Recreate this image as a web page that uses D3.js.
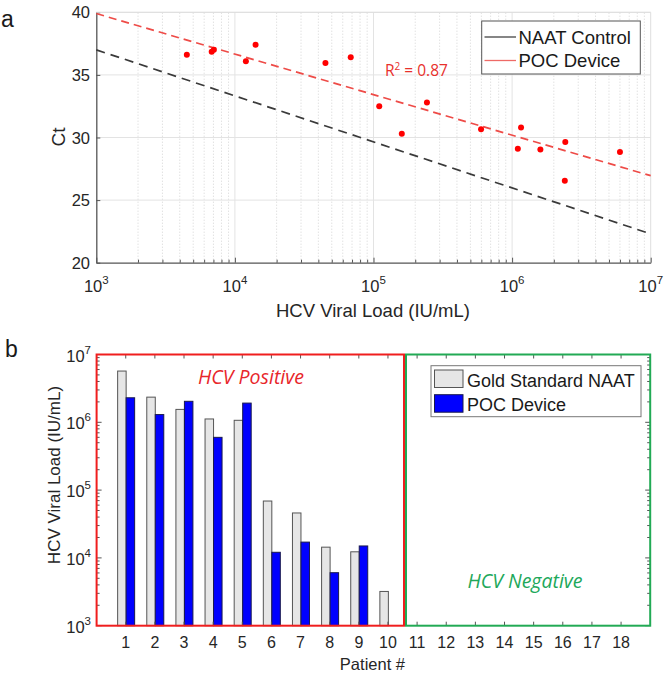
<!DOCTYPE html>
<html><head><meta charset="utf-8">
<script src="https://cdn.jsdelivr.net/npm/d3@7"></script>
<style>body{margin:0;background:#fff} svg{display:block}</style>
</head><body>
<script>
// ---------- Data: panel a ----------
const scatterLoad = [4500, 6800, 7050, 12000, 14100, 45000, 68500, 110000, 160000, 243000, 597000, 1160000, 1100000, 1600000, 2420000, 2400000, 6000000];
const scatterCt   = [36.6, 36.85, 37.0, 36.1, 37.4, 35.95, 36.4, 32.5, 30.3, 32.8, 30.65, 30.8, 29.1, 29.05, 29.65, 26.55, 28.85];
const fitLoad   = [1e3, 1e7];
const naatFitCt = [37.0, 22.3];
const pocFitCt  = [39.9, 26.95];
const ctTicks   = [20, 25, 30, 35, 40];
const loadTicks = [1e3, 1e4, 1e5, 1e6, 1e7];
const loadExp   = ["3", "4", "5", "6", "7"];
const legendA   = ["NAAT Control", "POC Device"];
const r2Label   = "0.87";

// ---------- Data: panel b ----------
const patients   = d3.range(1, 19);
const goldNAAT   = [5.7e6, 2.35e6, 1.55e6, 1.12e6, 1.07e6, 6.9e4, 4.6e4, 1.44e4, 1.23e4, 3.2e3];
const pocDevice  = [2.3e6, 1.3e6, 2.04e6, 6.0e5, 1.92e6, 1.21e4, 1.71e4, 6.05e3, 1.5e4, null];
const legendB    = ["Gold Standard NAAT", "POC Device"];
const groupNames = ["HCV Positive", "HCV Negative"];

const W = 666, H = 674;
const FONT = "'Liberation Sans', Arial, sans-serif";
const FONT2 = "'Open Sans', 'Noto Sans', sans-serif";
const svg = d3.select("body").append("svg").attr("width", W).attr("height", H)
  .style("font-family", FONT);

function minorLogs(lo, hi) {
  const out = [];
  for (let e = lo; e < hi; e++) for (let k = 2; k <= 9; k++) out.push(k * Math.pow(10, e));
  return out;
}

// ================= Panel a =================
const xA = d3.scaleLog().domain([1e3, 1e7]).range([96.3, 650.7]);
const yA = d3.scaleLinear().domain([20, 40]).range([262.7, 12.3]);
const gA = svg.append("g");

// minor grid (dotted)
gA.append("g").selectAll("line").data(minorLogs(3, 7)).join("line")
  .attr("x1", d => xA(d)).attr("x2", d => xA(d))
  .attr("y1", yA(20)).attr("y2", yA(40))
  .attr("stroke", "#d4d4d4").attr("stroke-width", 1).attr("stroke-dasharray", "1,2");
// major grid
gA.append("g").selectAll("line").data(loadTicks.slice(1, 4)).join("line")
  .attr("x1", d => xA(d)).attr("x2", d => xA(d))
  .attr("y1", yA(20)).attr("y2", yA(40))
  .attr("stroke", "#e3e3e3").attr("stroke-width", 1);
gA.append("g").selectAll("line").data(ctTicks.slice(1)).join("line")
  .attr("x1", xA(1e3)).attr("x2", xA(1e7))
  .attr("y1", d => yA(d)).attr("y2", d => yA(d))
  .attr("stroke", "#e3e3e3").attr("stroke-width", 1);
// right border
gA.append("line").attr("x1", xA(1e7)).attr("x2", xA(1e7)).attr("y1", yA(20)).attr("y2", yA(40))
  .attr("stroke", "#dedede");

// axes (ticks inside)
const axB = gA.append("g").attr("transform", `translate(0,${yA(20)})`)
  .call(d3.axisBottom(xA).tickValues(loadTicks).tickSizeInner(-5).tickSizeOuter(0).tickFormat(""));
const axBm = gA.append("g").attr("transform", `translate(0,${yA(20)})`)
  .call(d3.axisBottom(xA).tickValues(minorLogs(3, 7)).tickSizeInner(-3).tickSizeOuter(0).tickFormat(""));
axBm.select(".domain").remove();
const axL = gA.append("g").attr("transform", `translate(${xA(1e3)},0)`)
  .call(d3.axisLeft(yA).tickValues(ctTicks).tickSizeInner(-4).tickSizeOuter(0).tickFormat(""));
[axB, axBm, axL].forEach(a => {
  a.selectAll("line").attr("stroke", "#555");
  a.selectAll(".domain").attr("stroke", "#555").attr("stroke-width", 1.3);
});

// tick labels
gA.append("g").selectAll("text").data(ctTicks).join("text")
  .attr("x", 90).attr("y", d => yA(d) + 6)
  .attr("text-anchor", "end").attr("font-size", 16.5).attr("fill", "#262626")
  .text(d => d);
const xl = gA.append("g").selectAll("text").data(loadTicks).join("text")
  .attr("x", d => xA(d)).attr("y", 292)
  .attr("text-anchor", "middle").attr("font-size", 16.5).attr("fill", "#262626");
xl.append("tspan").text("10");
xl.append("tspan").attr("dy", -8).attr("font-size", 11.5).text((d, i) => loadExp[i]);

// axis labels
gA.append("text").attr("x", 373).attr("y", 317).attr("text-anchor", "middle")
  .attr("font-size", 18.5).attr("fill", "#262626").text("HCV Viral Load (IU/mL)");
gA.append("text").attr("transform", "translate(65,137) rotate(-90)").attr("text-anchor", "middle")
  .attr("font-size", 19).attr("fill", "#262626").text("Ct");

// fit lines
const lineA = d3.line().x(d => xA(d[0])).y(d => yA(d[1]));
gA.append("path").datum(fitLoad.map((v, i) => [v, naatFitCt[i]])).attr("d", lineA)
  .attr("fill", "none").attr("stroke", "#3a3a3a").attr("stroke-width", 1.7).attr("stroke-dasharray", "9,6");
gA.append("path").datum(fitLoad.map((v, i) => [v, pocFitCt[i]])).attr("d", lineA)
  .attr("fill", "none").attr("stroke", "#ee4b47").attr("stroke-width", 1.7).attr("stroke-dasharray", "8,5");

// points
gA.append("g").selectAll("circle").data(scatterLoad).join("circle")
  .attr("cx", d => xA(d)).attr("cy", (d, i) => yA(scatterCt[i])).attr("r", 3)
  .attr("fill", "#ff0000");

// top border
gA.append("line").attr("x1", xA(1e3)).attr("x2", xA(1e7)).attr("y1", yA(40)).attr("y2", yA(40))
  .attr("stroke", "#dedede");

// R^2 label
const r2 = gA.append("text").attr("x", 385).attr("y", 76).attr("font-family", FONT2)
  .attr("font-size", 15.5).attr("fill", "#e8302c");
r2.append("tspan").text("R");
r2.append("tspan").attr("dy", -6).attr("font-size", 10).text("2");
r2.append("tspan").attr("dy", 6).text(" = " + r2Label);

// legend a
const lgA = gA.append("g");
lgA.append("rect").attr("x", 481.7).attr("y", 21).attr("width", 158.6).attr("height", 53)
  .attr("fill", "#fff").attr("stroke", "#555").attr("stroke-width", 1);
const legColsA = ["#444", "#ee6a66"];
legendA.forEach((t, i) => {
  const y = 37 + i * 23.5;
  lgA.append("line").attr("x1", 484.5).attr("x2", 516).attr("y1", y).attr("y2", y)
    .attr("stroke", legColsA[i]).attr("stroke-width", 1.3);
  lgA.append("text").attr("x", 518.5).attr("y", y + 6.5).attr("font-size", 18.5)
    .attr("fill", "#1a1a1a").text(t);
});

// panel letter
svg.append("text").attr("x", 1).attr("y", 27).attr("font-size", 23).attr("fill", "#1a1a1a").text("a");

// ================= Panel b =================
const xB = d3.scaleLinear().domain([0, 19]).range([96.6, 650.2]);
const yB = d3.scaleLog().domain([1e3, 1e7]).range([625.7, 354.5]);
const gB = svg.append("g");
const bw = 8.5;

// bars
gB.append("g").selectAll("rect").data(goldNAAT).join("rect")
  .attr("x", (d, i) => xB(patients[i]) - bw + 0.4).attr("width", bw)
  .attr("y", d => yB(d)).attr("height", d => yB(1e3) - yB(d))
  .attr("fill", "#e6e6e6").attr("stroke", "#555").attr("stroke-width", 1);
gB.append("g").selectAll("rect").data(pocDevice.map((d, i) => ({d, i})).filter(o => o.d != null)).join("rect")
  .attr("x", o => xB(patients[o.i]) + 0.4).attr("width", bw)
  .attr("y", o => yB(o.d)).attr("height", o => yB(1e3) - yB(o.d))
  .attr("fill", "#0000ff").attr("stroke", "#1a1a4d").attr("stroke-width", 1);

// ticks
const tkB = gB.append("g").attr("stroke", "#555").attr("stroke-width", 1);
tkB.selectAll(".tt").data(patients).join("line").attr("class", "tt")
  .attr("x1", d => xB(d)).attr("x2", d => xB(d)).attr("y1", yB(1e7)).attr("y2", yB(1e7) + 4);
tkB.selectAll(".tb").data(patients).join("line").attr("class", "tb")
  .attr("x1", d => xB(d)).attr("x2", d => xB(d)).attr("y1", yB(1e3)).attr("y2", yB(1e3) - 4);
const ymaj = loadTicks, ymin = minorLogs(3, 7);
[[xB(0), 1], [xB(19), -1]].forEach(([x0, s]) => {
  tkB.append("g").selectAll("line").data(ymaj).join("line")
    .attr("x1", x0).attr("x2", x0 + s * 5).attr("y1", d => yB(d)).attr("y2", d => yB(d));
  tkB.append("g").selectAll("line").data(ymin).join("line")
    .attr("x1", x0).attr("x2", x0 + s * 3).attr("y1", d => yB(d)).attr("y2", d => yB(d));
});

// group boxes
const splitX = xB(10.55);
gB.append("rect").attr("x", xB(0)).attr("y", yB(1e7)).attr("width", splitX - xB(0))
  .attr("height", yB(1e3) - yB(1e7)).attr("fill", "none").attr("stroke", "#f01e1e").attr("stroke-width", 2);
gB.append("rect").attr("x", splitX + 2).attr("y", yB(1e7)).attr("width", xB(19) - splitX - 2)
  .attr("height", yB(1e3) - yB(1e7)).attr("fill", "none").attr("stroke", "#22aa55").attr("stroke-width", 2);

// group labels
gB.append("text").attr("x", 251).attr("y", 384).attr("text-anchor", "middle")
  .attr("font-family", FONT2).attr("font-style", "italic").attr("font-size", 19.5)
  .attr("fill", "#e8262b").text(groupNames[0]);
gB.append("text").attr("x", 525).attr("y", 588).attr("text-anchor", "middle")
  .attr("font-family", FONT2).attr("font-style", "italic").attr("font-size", 19.5)
  .attr("fill", "#21a85a").text(groupNames[1]);

// tick labels
gB.append("g").selectAll("text").data(patients).join("text")
  .attr("x", d => xB(d)).attr("y", 648).attr("text-anchor", "middle")
  .attr("font-size", 16).attr("fill", "#262626").text(d => d);
const yl = gB.append("g").selectAll("text").data(loadTicks).join("text")
  .attr("x", 91).attr("y", d => yB(d) + 7).attr("text-anchor", "end")
  .attr("font-size", 16.5).attr("fill", "#262626");
yl.append("tspan").text("10");
yl.append("tspan").attr("dy", -8).attr("font-size", 11.5).text((d, i) => loadExp[i]);

// axis labels
gB.append("text").attr("x", 405).attr("y", 670).attr("text-anchor", "end")
  .attr("font-size", 16.5).attr("fill", "#262626").text("Patient #");
gB.append("text").attr("transform", "translate(60,475) rotate(-90)").attr("text-anchor", "middle")
  .attr("font-size", 17).attr("fill", "#262626").text("HCV Viral Load (IU/mL)");

// legend b
const lgB = gB.append("g");
lgB.append("rect").attr("x", 431).attr("y", 365.7).attr("width", 210).attr("height", 51)
  .attr("fill", "#fff").attr("stroke", "#777").attr("stroke-width", 1);
const legFillB = ["#e6e6e6", "#0000ff"];
const legStrokeB = ["#555", "#1a1a4d"];
legendB.forEach((t, i) => {
  const y = 370 + i * 24.7;
  lgB.append("rect").attr("x", 434.5).attr("y", y).attr("width", 28.5).attr("height", 17.5)
    .attr("fill", legFillB[i]).attr("stroke", legStrokeB[i]).attr("stroke-width", 1);
  lgB.append("text").attr("x", 467).attr("y", y + 16.5).attr("font-size", 18)
    .attr("fill", "#1a1a1a").text(t);
});

svg.append("text").attr("x", 5).attr("y", 357).attr("font-size", 23).attr("fill", "#1a1a1a").text("b");
</script>
</body></html>
